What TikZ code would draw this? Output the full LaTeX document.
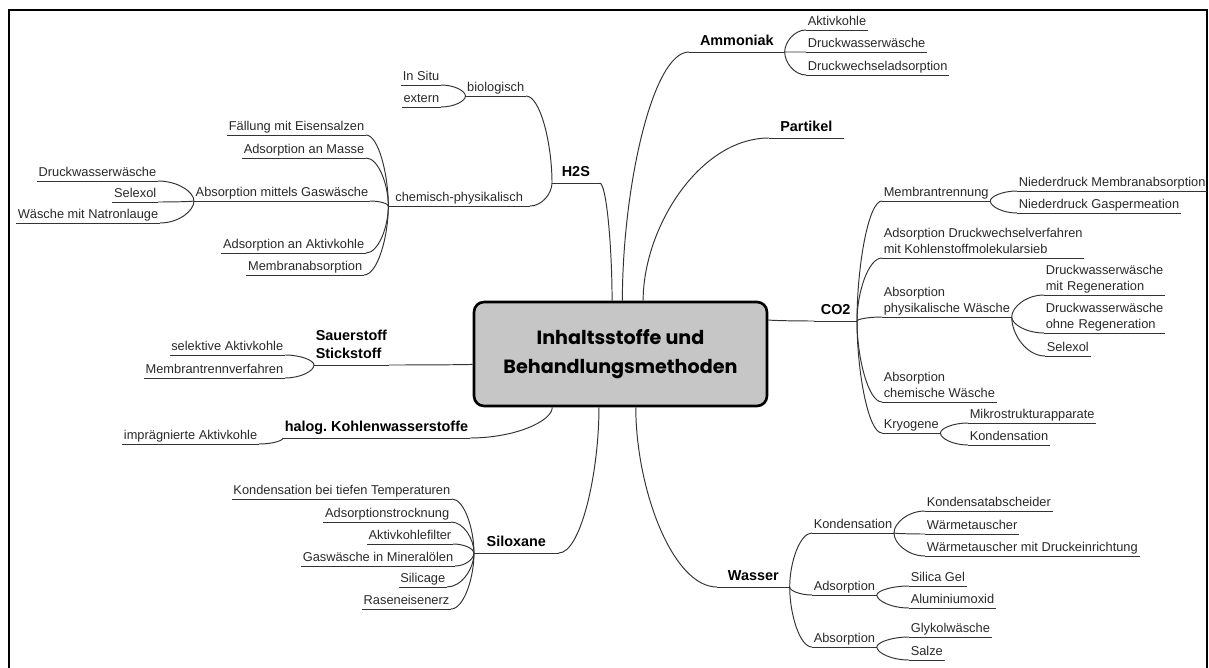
\documentclass[tikz,border=0pt]{standalone}
\usepackage{fontspec}
\setmainfont{Liberation Sans}
\newfontfamily\hubfont{Poppins}
\usetikzlibrary{calc}
\definecolor{hubgray}{RGB}{198,198,198}
\definecolor{ink}{RGB}{40,40,40}
\tikzset{
  wire/.style={draw=black!80, line width=0.55pt},
  lbl/.style={font=\fontsize{7.3}{9}\selectfont, text=ink, inner sep=0.8pt,
    execute at end node={\rule[-1.7pt]{0pt}{1pt}},
    append after command={(\tikzlastnode.south west) edge[wire] (\tikzlastnode.south east)}},
  topic/.style={font=\fontsize{8.2}{10.5}\selectfont\bfseries, inner sep=0.8pt,
    execute at end node={\rule[-2.6pt]{0pt}{1pt}},
    append after command={(\tikzlastnode.south west) edge[wire] (\tikzlastnode.south east)}},
  hub/.style={draw, line width=1.5pt, rounded corners=0.2cm, fill=hubgray,
    minimum width=5.86cm, minimum height=2.08cm, align=center,
    font=\hubfont\fontsize{10.9}{16.4}\selectfont\bfseries},
  lnk/.style={to path={.. controls ($(\tikztostart)!0.45!(\tikztostart|-\tikztotarget)$)
    and ($(\tikztotarget)!0.55!(\tikztostart|-\tikztotarget)$) .. (\tikztotarget)}}
}
\begin{document}
\begin{tikzpicture}[x=0.02cm, y=-0.02cm]
\useasboundingbox (0,0) rectangle (1209,668);
\draw[line width=1.2pt] (9,10) rectangle (1207,690);
% centre
\node[hub] (hub) at (620.5,354) {Inhaltsstoffe und\\Behandlungsmethoden};
% H2S
\node[topic, anchor=south west, minimum width=0.94cm] (h2s) at (552,183) {H2S};
\node[lbl, anchor=south east] (bio) at (526,96) {biologisch};
\node[lbl, anchor=south east] (insitu) at (441,85) {In Situ};
\node[lbl, anchor=south east] (extern) at (441,107) {extern};
\node[lbl, anchor=south east, minimum width=2.82cm] (chem) at (530,206) {chemisch-physikalisch};
\node[lbl, anchor=south east] (faell) at (366,135) {Fällung mit Eisensalzen};
\node[lbl, anchor=south east] (masse) at (366,158) {Adsorption an Masse};
\node[lbl, anchor=south east] (gasw) at (370,201) {Absorption mittels Gaswäsche};
\node[lbl, anchor=south east] (dww) at (158,181) {Druckwasserwäsche};
\node[lbl, anchor=south east] (selex) at (158,202) {Selexol};
\node[lbl, anchor=south east] (natron) at (160,223) {Wäsche mit Natronlauge};
\node[lbl, anchor=south east] (akohle) at (366,253) {Adsorption an Aktivkohle};
\node[lbl, anchor=south east] (mabs) at (364,275) {Membranabsorption};
\draw[wire] (hub.99) to[lnk] (h2s.south east);
\foreach \c in {bio,chem} \draw[wire] (h2s.south west) to[lnk] (\c.south east);
\foreach \c in {insitu,extern} \draw[wire] (bio.south west) to[lnk] (\c.south east);
\foreach \c in {faell,masse,gasw,akohle,mabs} \draw[wire] (chem.south west) to[lnk] (\c.south east);
\foreach \c in {dww,selex,natron} \draw[wire] (gasw.south west) to[lnk] (\c.south east);
% Ammoniak, Partikel
\node[topic, anchor=south west, minimum width=1.9cm] (ammon) at (689,52) {Ammoniak};
\node[lbl, anchor=south west] (akt) at (806,30) {Aktivkohle};
\node[lbl, anchor=south west] (dww2) at (806,52) {Druckwasserwäsche};
\node[lbl, anchor=south west] (dwa) at (806,75) {Druckwechseladsorption};
\node[topic, anchor=south west, minimum width=1.48cm] (partikel) at (769,138) {Partikel};
\draw[wire] (hub.88) to[lnk] (ammon.south west);
\foreach \c in {akt,dww2,dwa} \draw[wire] (ammon.south east) to[lnk] (\c.south west);
\draw[wire] (hub.67) to[lnk] (partikel.south west);
% CO2
\node[topic, anchor=south east, minimum width=0.84cm] (co2) at (857,321) {CO2};
\node[lbl, anchor=south west] (mtr) at (882,201) {Membrantrennung};
\node[lbl, anchor=south west] (nma) at (1017,191) {Niederdruck Membranabsorption};
\node[lbl, anchor=south west] (ngp) at (1017,213) {Niederdruck Gaspermeation};
\node[lbl, anchor=south west, align=left] (adw) at (882,258) {Adsorption Druckwechselverfahren\\mit Kohlenstoffmolekularsieb};
\node[lbl, anchor=south west, align=left] (aph) at (882,317) {Absorption\\physikalische Wäsche};
\node[lbl, anchor=south west, align=left, text width=2.35cm] (dmr) at (1044,295) {Druckwasserwäsche\\mit Regeneration};
\node[lbl, anchor=south west, align=left, text width=2.35cm] (dor) at (1044,333) {Druckwasserwäsche\\ohne Regeneration};
\node[lbl, anchor=south west] (sel2) at (1045,356) {Selexol};
\node[lbl, anchor=south west, align=left] (ach) at (882,402) {Absorption\\chemische Wäsche};
\node[lbl, anchor=south west] (kryo) at (882,433) {Kryogene};
\node[lbl, anchor=south west] (mikro) at (968,423) {Mikrostrukturapparate};
\node[lbl, anchor=south west] (kond) at (968,445) {Kondensation};
\draw[wire] (hub.13) to[lnk] (co2.south west);
\foreach \c in {mtr,adw,aph,ach,kryo} \draw[wire] (co2.south east) to[lnk] (\c.south west);
\foreach \c in {nma,ngp} \draw[wire] (mtr.south east) to[lnk] (\c.south west);
\foreach \c in {dmr,dor,sel2} \draw[wire] (aph.south east) to[lnk] (\c.south west);
\foreach \c in {mikro,kond} \draw[wire] (kryo.south east) to[lnk] (\c.south west);
% Wasser
\node[topic, anchor=south west, minimum width=1.44cm] (wasser) at (717,587) {Wasser};
\node[lbl, anchor=south west] (wkond) at (812,533) {Kondensation};
\node[lbl, anchor=south west] (kab) at (925,511) {Kondensatabscheider};
\node[lbl, anchor=south west] (wt) at (925,534) {Wärmetauscher};
\node[lbl, anchor=south west] (wtd) at (925,556) {Wärmetauscher mit Druckeinrichtung};
\node[lbl, anchor=south west] (wads) at (812,595) {Adsorption};
\node[lbl, anchor=south west] (sgel) at (909,586) {Silica Gel};
\node[lbl, anchor=south west] (alu) at (909,608) {Aluminiumoxid};
\node[lbl, anchor=south west] (wabs) at (812,647) {Absorption};
\node[lbl, anchor=south west] (glyk) at (909,637) {Glykolwäsche};
\node[lbl, anchor=south west] (salze) at (909,660) {Salze};
\draw[wire] (hub.286) to[lnk] (wasser.south west);
\foreach \c in {wkond,wads,wabs} \draw[wire] (wasser.south east) to[lnk] (\c.south west);
\foreach \c in {kab,wt,wtd} \draw[wire] (wkond.south east) to[lnk] (\c.south west);
\foreach \c in {sgel,alu} \draw[wire] (wads.south east) to[lnk] (\c.south west);
\foreach \c in {glyk,salze} \draw[wire] (wabs.south east) to[lnk] (\c.south west);
% Sauerstoff, halog. KW
\node[topic, anchor=south west, align=left] (sauer) at (314,365) {Sauerstoff\\Stickstoff};
\node[lbl, anchor=south east] (selak) at (285,355) {selektive Aktivkohle};
\node[lbl, anchor=south east] (mtv) at (285,378) {Membrantrennverfahren};
\node[topic, anchor=south west] (halog) at (283,438) {halog.\ Kohlenwasserstoffe};
\node[lbl, anchor=south east] (impr) at (259,444) {imprägnierte Aktivkohle};
\draw[wire] (hub.184) to[lnk] (sauer.south east);
\foreach \c in {selak,mtv} \draw[wire] (sauer.south west) to[lnk] (\c.south east);
\draw[wire] (hub.218) to[lnk] (halog.south east);
\draw[wire] (halog.south west) to[lnk] (impr.south east);
% Siloxane
\node[topic, anchor=south west, minimum width=1.68cm] (silox) at (474,553) {Siloxane};
\node[lbl, anchor=south east] (ktt) at (452,499) {Kondensation bei tiefen Temperaturen};
\node[lbl, anchor=south east] (atr) at (451,522) {Adsorptionstrocknung};
\node[lbl, anchor=south east] (akf) at (453,544) {Aktivkohlefilter};
\node[lbl, anchor=south east] (gmo) at (455,566) {Gaswäsche in Mineralölen};
\node[lbl, anchor=south east] (silic) at (447,587) {Silicage};
\node[lbl, anchor=south east] (rasen) at (451,609) {Raseneisenerz};
\draw[wire] (hub.248) to[lnk] (silox.south east);
\foreach \c in {ktt,atr,akf,gmo,silic,rasen} \draw[wire] (silox.south west) to[lnk] (\c.south east);
\end{tikzpicture}
\end{document}
